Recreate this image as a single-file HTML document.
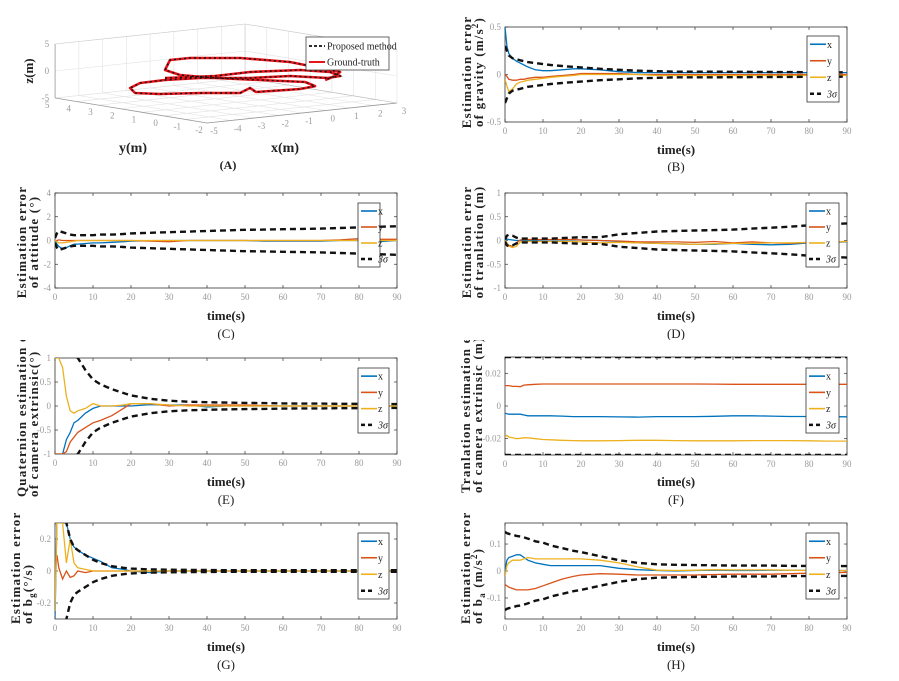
<!DOCTYPE html>
<html><head><meta charset="utf-8">
<style>
html,body{margin:0;padding:0;background:#fff;width:899px;height:681px;overflow:hidden;}
#root{position:relative;width:899px;height:681px;overflow:hidden;background:#fff;}
svg{position:absolute;overflow:hidden;}
text{font-family:"Liberation Serif",serif;}
</style></head>
<body>
<div id="root">
<svg id="pA" style="left:0;top:0" width="450" height="180"></svg>
<svg id="pB" style="left:450px;top:0" width="449" height="180"></svg>
<svg id="pC" style="left:0;top:180px" width="450" height="160"></svg>
<svg id="pD" style="left:450px;top:180px" width="449" height="160"></svg>
<svg id="pE" style="left:0;top:340px" width="450" height="170"></svg>
<svg id="pF" style="left:450px;top:340px" width="449" height="170"></svg>
<svg id="pG" style="left:0;top:510px" width="450" height="171"></svg>
<svg id="pH" style="left:450px;top:510px" width="449" height="171"></svg>
</div>
<script>
const NS="http://www.w3.org/2000/svg";
// ---------- data ----------
const timeS=[0,0.5,1,2,3,4,5,6,8,10,12,15,18,20,25,30,35,40,45,50,55,60,65,70,75,80,85,90];
const xTickVals=[0,10,20,30,40,50,60,70,80,90];

const gravX=[0.5,0.3,0.22,0.17,0.14,0.12,0.1,0.08,0.05,0.04,0.04,0.05,0.06,0.06,0.05,0.03,0.02,0.02,0.02,0.02,0.02,0.02,0.02,0.02,0.02,0.02,0.02,0.02];
const gravY=[0,-0.02,-0.05,-0.06,-0.06,-0.05,-0.05,-0.04,-0.03,-0.03,-0.02,-0.01,0,0.01,0.01,0.01,0,0,0,0,0,0,0,0,0,0,0,0];
const gravZ=[-0.05,-0.12,-0.18,-0.15,-0.1,-0.08,-0.07,-0.06,-0.05,-0.04,-0.03,-0.02,-0.01,0,0,0,0,-0.01,-0.01,-0.01,-0.01,-0.01,-0.01,-0.01,-0.01,-0.01,-0.01,-0.01];
const gravSig=[0.3,0.25,0.2,0.17,0.16,0.15,0.14,0.13,0.12,0.11,0.1,0.09,0.08,0.075,0.06,0.05,0.04,0.035,0.03,0.03,0.03,0.028,0.027,0.026,0.025,0.024,0.023,0.022];
const gravTicks=[-0.5,0,0.5];

const attX=[0,-0.3,-0.5,-0.7,-0.6,-0.45,-0.3,-0.3,-0.25,-0.2,-0.2,-0.15,-0.1,-0.05,-0.02,0,0,0,0,0,-0.05,-0.05,-0.05,-0.05,0,0,-0.1,0];
const attY=[0,0,0.05,0,0,0,0,0,0,0,0,0,0,0,-0.05,-0.1,0,0,0,0,0,0,0,0,0.05,0.15,0.1,0.1];
const attZ=[0,-0.1,-0.2,-0.2,-0.15,-0.1,-0.05,0,0,0,0,0,0,0,0,0,0,0,0,0,0,0,0,0,0,0,0,0];
const attSig=[0.2,0.6,0.8,0.7,0.6,0.5,0.45,0.45,0.45,0.45,0.5,0.5,0.55,0.6,0.65,0.7,0.75,0.8,0.85,0.9,0.92,0.95,0.98,1.0,1.05,1.1,1.15,1.2];
const attTicks=[-4,-2,0,2,4];

const trX=[0,0.03,0.02,0.01,0,0,0,0,0,0.01,0.01,0.01,0.01,0.01,0,-0.02,-0.05,-0.06,-0.07,-0.08,-0.08,-0.06,-0.08,-0.09,-0.08,-0.05,-0.04,-0.03];
const trY=[0,-0.05,-0.1,-0.12,-0.05,0.01,0.02,0.02,0.02,0.02,0.02,0.02,0.02,0.01,0,-0.01,-0.03,-0.03,-0.03,-0.04,-0.02,-0.05,-0.03,-0.05,-0.06,-0.04,-0.03,-0.02];
const trZ=[0,-0.05,-0.12,-0.15,-0.12,-0.03,-0.02,-0.02,-0.02,-0.02,-0.02,-0.02,-0.02,-0.03,-0.05,-0.04,-0.05,-0.06,-0.07,-0.08,-0.07,-0.06,-0.06,-0.05,-0.05,-0.04,-0.03,-0.02];
const trSig=[0.02,0.1,0.12,0.1,0.06,0.04,0.04,0.04,0.04,0.04,0.04,0.05,0.06,0.07,0.07,0.13,0.16,0.19,0.2,0.21,0.22,0.23,0.25,0.27,0.29,0.32,0.34,0.36];
const trTicks=[-1,-0.5,0,0.5,1];

const qX=[-1,-1,-1,-1,-0.7,-0.55,-0.35,-0.3,-0.15,-0.05,0,0,0,0,0.03,0.02,0.02,-0.02,0,0,0,0,0,0,0,0,0,0];
const qY=[-1,-1,-1,-1,-0.95,-0.75,-0.65,-0.55,-0.45,-0.35,-0.3,-0.2,-0.05,0.05,0.05,0,0.02,0.02,0.02,0.02,0.01,0,0,0,0,0,0,0];
const qZ=[1,1,1,0.8,0.2,-0.1,-0.15,-0.1,-0.05,0.05,0,0,0.02,0.05,0.05,0.02,0,0,0,0,0,0,0,0,0,0,0,0];
const qSig=[3,2.5,2,1.6,1.3,1.15,1.05,1.0,0.75,0.55,0.45,0.35,0.27,0.22,0.15,0.11,0.09,0.08,0.07,0.065,0.06,0.055,0.05,0.05,0.045,0.045,0.04,0.04];
const qTicks=[-1,-0.5,0,0.5,1];

const etX=[-0.0045,-0.0048,-0.005,-0.005,-0.005,-0.005,-0.0055,-0.006,-0.006,-0.006,-0.006,-0.0062,-0.0065,-0.0065,-0.0065,-0.0067,-0.0068,-0.0065,-0.0065,-0.0065,-0.0063,-0.006,-0.006,-0.0062,-0.0064,-0.0064,-0.0065,-0.0066];
const etY=[0.0125,0.0125,0.0125,0.012,0.012,0.0118,0.0128,0.013,0.0133,0.0135,0.0135,0.0135,0.0135,0.0135,0.0135,0.0135,0.0135,0.0135,0.0135,0.0135,0.0134,0.0133,0.0133,0.0133,0.0133,0.0133,0.0133,0.0133];
const etZ=[-0.019,-0.018,-0.019,-0.0195,-0.02,-0.0198,-0.0195,-0.0195,-0.02,-0.0205,-0.0207,-0.021,-0.0212,-0.0213,-0.0213,-0.0212,-0.021,-0.021,-0.0212,-0.0213,-0.0213,-0.0213,-0.0212,-0.0212,-0.0212,-0.0213,-0.0215,-0.0215];
const etSig=[0.03,0.03,0.03,0.03,0.03,0.03,0.03,0.03,0.03,0.03,0.03,0.03,0.03,0.03,0.03,0.03,0.03,0.03,0.03,0.03,0.03,0.03,0.03,0.03,0.03,0.03,0.03,0.03];
const etTicks=[-0.02,0,0.02];

const bgX=[-0.3,0.3,0.3,0.3,0.3,0.2,0.15,0.13,0.1,0.08,0.06,0.02,0.01,0,-0.01,0,0,0,0,0,0,0,0,0,0,0,0,0];
const bgY=[0,0.1,0.02,-0.05,0,-0.04,-0.03,0,-0.01,0,0,0,0,0,0,0,0,0,0,0,0,0,0,0,0,0,0,0];
const bgZ=[-0.25,0.3,0.3,0.3,0.05,0.2,0.05,0.02,0.01,0,0,0,0,0,0,0,0,0,0,0,0,0,0,0,0,0,0,0];
const bgSig=[1,0.8,0.6,0.45,0.3,0.2,0.15,0.13,0.1,0.07,0.05,0.03,0.02,0.015,0.01,0.008,0.007,0.006,0.005,0.005,0.005,0.005,0.005,0.005,0.005,0.005,0.005,0.005];
const bgTicks=[-0.2,0,0.2];

const baX=[0,0.04,0.05,0.055,0.06,0.06,0.05,0.04,0.03,0.025,0.02,0.02,0.02,0.02,0.02,0.01,0.005,0.002,0,0.002,0.003,0.002,0.002,0.003,0.003,0.002,0.002,0.002];
const baY=[-0.05,-0.055,-0.06,-0.065,-0.07,-0.07,-0.07,-0.07,-0.065,-0.055,-0.045,-0.03,-0.02,-0.015,-0.01,-0.012,-0.015,-0.015,-0.015,-0.015,-0.013,-0.012,-0.012,-0.012,-0.01,-0.008,-0.007,-0.005];
const baZ=[-0.02,0.02,0.03,0.04,0.04,0.04,0.045,0.05,0.045,0.045,0.045,0.045,0.045,0.045,0.04,0.03,0.015,0.003,0.002,0.003,0.005,0.004,0.004,0.004,0.003,0.002,0.002,0.002];
const baSig=[0.145,0.14,0.138,0.135,0.13,0.128,0.125,0.12,0.11,0.105,0.095,0.085,0.075,0.07,0.055,0.04,0.03,0.025,0.023,0.022,0.021,0.02,0.02,0.02,0.019,0.019,0.018,0.018];
const baTicks=[-0.1,0,0.1];

// 3D trajectory (meters)
const trajX=[-3.57,-1.46,0.01,2.12,3.38,3.8,3.29,1.69,0.01,-2.09,-3.57,-4.62,-5.04,-4.83,-3.78,-2.09,-0.41,0.01,0.26,2.12,2.75,2.33,0.43,-1.46,-2.94,-3.57,-3.36,-2.52,-0.41,1.69,2.96,3.8,3.59,3.17];
const trajY=[1.5,1.5,1.5,1.5,1.5,1.5,1.5,1.5,1.5,1.5,1.5,1.5,1.5,1.5,1.5,1.5,1.5,1.5,1.5,1.5,1.5,1.5,1.5,1.5,1.5,1.5,1.5,1.5,1.5,1.5,1.5,1.5,1.5,1.5];
const trajZ=[0.36,-0.25,-0.19,-0.8,-1.75,-2.69,-2.82,-1.7,-1.3,-0.33,-0.01,-0.08,-0.81,-1.84,-2.51,-3.1,-3.88,-3.15,-4.0,-4.31,-4.06,-3.11,-1.87,-0.62,0.62,1.84,3.59,3.57,2.6,0.89,-0.81,-1.94,-2.59,-3.13];
const xAxis3d=[-5,-4,-3,-2,-1,0,1,2,3];
const yAxis3d=[5,4,3,2,1,0,-1,-2];
const zAxis3d=[-5,0,5];

const COL={x:"#0072BD",y:"#D95319",z:"#EDB120"};

function el(parent,tag,attrs){const e=document.createElementNS(NS,tag);for(const k in attrs)e.setAttribute(k,attrs[k]);parent.appendChild(e);return e;}

function panel(cfg){
  const svg=document.getElementById(cfg.id);
  const ox=cfg.ox, oy=cfg.oy;
  const L=cfg.box[0]-ox,R=cfg.box[1]-ox,T=cfg.box[2]-oy,B=cfg.box[3]-oy;
  const xs=t=>L+(t/90)*(R-L);
  const ys=v=>B-(v-cfg.ymin)/(cfg.ymax-cfg.ymin)*(B-T);
  const cid=cfg.id+"clip";
  const defs=el(svg,"defs",{});
  const cp=el(defs,"clipPath",{id:cid});
  el(cp,"rect",{x:L,y:T,width:R-L,height:B-T});
  const frame=el(svg,"rect",{x:L,y:T,width:R-L,height:B-T,fill:"#fff",stroke:"#333","stroke-width":0.8});
  
  
  xTickVals.forEach(v=>{
    const x=xs(v);
    el(svg,"line",{x1:x,y1:B,x2:x,y2:B-3,stroke:"#333","stroke-width":0.7});
    el(svg,"line",{x1:x,y1:T,x2:x,y2:T+3,stroke:"#333","stroke-width":0.7});
    const tx=el(svg,"text",{x:x,y:B+12,"font-size":9,fill:"#999","text-anchor":"middle"});
    tx.textContent=v;
    
    
  });
  cfg.yticks.forEach(v=>{
    const y=ys(v);
    el(svg,"line",{x1:L,y1:y,x2:L+3,y2:y,stroke:"#333","stroke-width":0.7});
    el(svg,"line",{x1:R,y1:y,x2:R-3,y2:y,stroke:"#333","stroke-width":0.7});
    const tx=el(svg,"text",{x:L-4,y:y+3,"font-size":9,fill:"#999","text-anchor":"end"});
    tx.textContent=String(v);
    
    
  });
  const g=el(svg,"g",{"clip-path":"url(#"+cid+")"});
  const path=(arr)=>arr.map((v,i)=>(i?"L":"M")+xs(timeS[i]).toFixed(1)+","+ys(v).toFixed(1)).join("");
  ["x","y","z"].forEach(k=>{
    const p=el(g,"path",{d:path(cfg[k]),fill:"none",stroke:COL[k],"stroke-width":1.3});
    
    
  });
  const up=el(g,"path",{d:path(cfg.sig),fill:"none",stroke:"#111","stroke-width":2.4,"stroke-dasharray":"6,4"});
  
  
  const lo=el(g,"path",{d:path(cfg.sig.map(v=>-v)),fill:"none",stroke:"#111","stroke-width":2.4,"stroke-dasharray":"6,4"});
  
  
  const lg=cfg.leg; const lx=lg[0]-ox,lr=lg[1]-ox,lt=lg[2]-oy,lb=lg[3]-oy;
  const legG=el(svg,"g",{});
  
  
  el(legG,"rect",{x:lx,y:lt,width:lr-lx,height:lb-lt,fill:"#fff",stroke:"#333","stroke-width":0.8});
  const rows=[["x",COL.x,false],["y",COL.y,false],["z",COL.z,false],["3σ","#111",true]];
  const rh=(lb-lt)/4;
  rows.forEach((r,i)=>{
    const yy=lt+rh*(i+0.5);
    const entry=el(legG,"g",{});
    
    
    el(entry,"line",{x1:lx+3,y1:yy,x2:lx+(r[2]?16:19),y2:yy,stroke:r[1],"stroke-width":r[2]?2.4:1.6,"stroke-dasharray":r[2]?"4,3":"none"});
    const t=el(entry,"text",{x:lx+20,y:yy+3.5,"font-size":10,fill:"#222","font-style":r[2]?"italic":"normal"});
    t.textContent=r[0];
  });
  const cx=(L+R)/2;
  const xl=el(svg,"text",{x:cx,y:cfg.xlabY-oy,"font-size":13,"font-weight":"bold","text-anchor":"middle",fill:"#222"});
  xl.textContent="time(s)";
  
  
  const lt2=el(svg,"text",{x:cx,y:cfg.letY-oy,"font-size":13,"text-anchor":"middle",fill:"#222"});
  lt2.textContent=cfg.letter;
  
  
  const yl=el(svg,"g",{});
  
  
  cfg.ylab.forEach((line,i)=>{
    const px=cfg.ylabX[i]-ox, py=cfg.ylabY-oy;
    const t=el(yl,"text",{x:px,y:py,"font-size":13,"font-weight":"bold",fill:"#222","letter-spacing":"1.2","text-anchor":cfg.ylabAnchor,transform:"rotate(-90 "+px+" "+py+")"});
    t.innerHTML=line;
  });
}

panel({id:"pB",ox:450,oy:0,box:[505,847,27,122],ymin:-0.5,ymax:0.5,yticks:gravTicks,x:gravX,y:gravY,z:gravZ,sig:gravSig,leg:[807,839,36,102],xlabY:154,letY:171,letter:"(B)",ylab:["Estimation error","of gravity (m/s<tspan font-size='9' dy='-5'>2</tspan><tspan dy='5'>)</tspan>"],ylabX:[471,483],ylabY:72,ylabAnchor:"middle"});
panel({id:"pC",ox:0,oy:180,box:[55,397,193,288],ymin:-4,ymax:4,yticks:attTicks,x:attX,y:attY,z:attZ,sig:attSig,leg:[358,380,203,267],xlabY:320,letY:338,letter:"(C)",ylab:["Estimation error","of attitude (°)"],ylabX:[26,38],ylabY:242,ylabAnchor:"middle"});
panel({id:"pD",ox:450,oy:180,box:[505,847,193,288],ymin:-1,ymax:1,yticks:trTicks,x:trX,y:trY,z:trZ,sig:trSig,leg:[806,839,203,267],xlabY:320,letY:338,letter:"(D)",ylab:["Estimation error","of tranlation (m)"],ylabX:[471,483],ylabY:242,ylabAnchor:"middle"});
panel({id:"pE",ox:0,oy:340,box:[55,397,358,454],ymin:-1,ymax:1,yticks:qTicks,x:qX,y:qY,z:qZ,sig:qSig,leg:[358,389,368,433],xlabY:486,letY:504,letter:"(E)",ylab:["Quaternion estimation error","of camera extrinsic(°)"],ylabX:[26,38],ylabY:497,ylabAnchor:"start"});
panel({id:"pF",ox:450,oy:340,box:[505,847,357,455],ymin:-0.03,ymax:0.03,yticks:etTicks,x:etX,y:etY,z:etZ,sig:etSig,leg:[806,839,368,433],xlabY:486,letY:504,letter:"(F)",ylab:["Tranlation estimation error","of camera extrinsic (m)"],ylabX:[470,482],ylabY:493,ylabAnchor:"start"});
panel({id:"pG",ox:0,oy:510,box:[55,397,523,619],ymin:-0.3,ymax:0.3,yticks:bgTicks,x:bgX,y:bgY,z:bgZ,sig:bgSig,leg:[358,389,533,599],xlabY:651,letY:669,letter:"(G)",ylab:["Estimation error","of b<tspan font-size='9' dy='3'>g</tspan><tspan dy='-3'>(°/s)</tspan>"],ylabX:[20,32],ylabY:624,ylabAnchor:"start"});
panel({id:"pH",ox:450,oy:510,box:[505,847,523,619],ymin:-0.178,ymax:0.178,yticks:baTicks,x:baX,y:baY,z:baZ,sig:baSig,leg:[806,839,533,599],xlabY:651,letY:669,letter:"(H)",ylab:["Estimation error","of b<tspan font-size='9' dy='3'>a</tspan><tspan dy='-3'> (m/s</tspan><tspan font-size='9' dy='-5'>2</tspan><tspan dy='5'>)</tspan>"],ylabX:[470,482],ylabY:624,ylabAnchor:"start"});

// ---------- 3D panel ----------
(function(){
  const svg=document.getElementById("pA");
  const P=(x,y,z)=>[207+(x+5)*23.75+(y+2)*(-21.7),123-(x+5)*2.5-(y+2)*3.57-(z+5)*5.4];
  const ln=(a,b,c,w)=>el(svg,"line",{x1:a[0],y1:a[1],x2:b[0],y2:b[1],stroke:c,"stroke-width":w});
  const grid="#e2e2e2";
  xAxis3d.forEach(x=>ln(P(x,5,-5),P(x,5,5),grid,0.6));
  zAxis3d.forEach(z=>ln(P(-5,5,z),P(3,5,z),grid,0.6));
  yAxis3d.forEach(y=>ln(P(3,y,-5),P(3,y,5),grid,0.6));
  zAxis3d.forEach(z=>ln(P(3,-2,z),P(3,5,z),grid,0.6));
  xAxis3d.forEach(x=>ln(P(x,-2,-5),P(x,5,-5),grid,0.6));
  yAxis3d.forEach(y=>ln(P(-5,y,-5),P(3,y,-5),grid,0.6));
  ln(P(-5,5,-5),P(-5,5,5),"#999",0.8);
  ln(P(-5,5,-5),P(-5,-2,-5),"#999",0.8);
  ln(P(-5,-2,-5),P(3,-2,-5),"#999",0.8);
  ln(P(3,-2,-5),P(3,5,-5),"#bbb",0.6);
  ln(P(-5,5,5),P(3,5,5),"#ccc",0.6);
  ln(P(3,5,5),P(3,-2,5),"#ccc",0.6);
  ln(P(3,5,-5),P(3,5,5),"#ccc",0.6);
  zAxis3d.forEach(z=>{const p=P(-5,5,z);const t=el(svg,"text",{x:p[0]-6,y:p[1]+3,"font-size":9,fill:"#999","text-anchor":"end"});t.textContent=z;
    });
  yAxis3d.forEach(y=>{const p=P(-5,y,-5);const t=el(svg,"text",{x:p[0]-8,y:p[1]+10,"font-size":9,fill:"#999","text-anchor":"middle"});t.textContent=y;
    });
  xAxis3d.forEach(x=>{const p=P(x,-2,-5);const t=el(svg,"text",{x:p[0]+7,y:p[1]+11,"font-size":9,fill:"#999","text-anchor":"middle"});t.textContent=x;
    });
  const d=trajX.map((x,i)=>{const p=P(x,trajY[i],trajZ[i]);return (i?"L":"M")+p[0].toFixed(1)+","+p[1].toFixed(1);}).join("");
  const gt=el(svg,"path",{d:d,fill:"none",stroke:"#e8141a","stroke-width":2.6,"stroke-linejoin":"round"});
  
  const pm=el(svg,"path",{d:d,fill:"none",stroke:"#111","stroke-width":1.4,"stroke-dasharray":"2,3"});
  
  const mk=(x,y,txt,fs,nm,extra)=>{const t=el(svg,"text",Object.assign({x:x,y:y,"font-size":fs,"font-weight":"bold",fill:"#222","text-anchor":"middle"},extra||{}));t.textContent=txt;return t;};
  mk(33,71,"z(m)",13,"z-axis-title",{transform:"rotate(-90 33 71)"});
  mk(133,152,"y(m)",14,"y-axis-title");
  mk(285,152,"x(m)",14,"x-axis-title");
  mk(228,169,"(A)",12,"panel-letter");
  const lg=el(svg,"g",{});
  
  el(lg,"rect",{x:306,y:37,width:83,height:33,fill:"#fff",stroke:"#444","stroke-width":0.8});
  el(lg,"line",{x1:309,y1:46,x2:325,y2:46,stroke:"#111","stroke-width":1.8,"stroke-dasharray":"3,2"});
  const t1=el(lg,"text",{x:327,y:49.5,"font-size":10,fill:"#222"});t1.textContent="Proposed method";
  el(lg,"line",{x1:309,y1:62,x2:325,y2:62,stroke:"#e8141a","stroke-width":2});
  const t2=el(lg,"text",{x:327,y:65.5,"font-size":10,fill:"#222"});t2.textContent="Ground-truth";
})();
</script>
</body></html>
